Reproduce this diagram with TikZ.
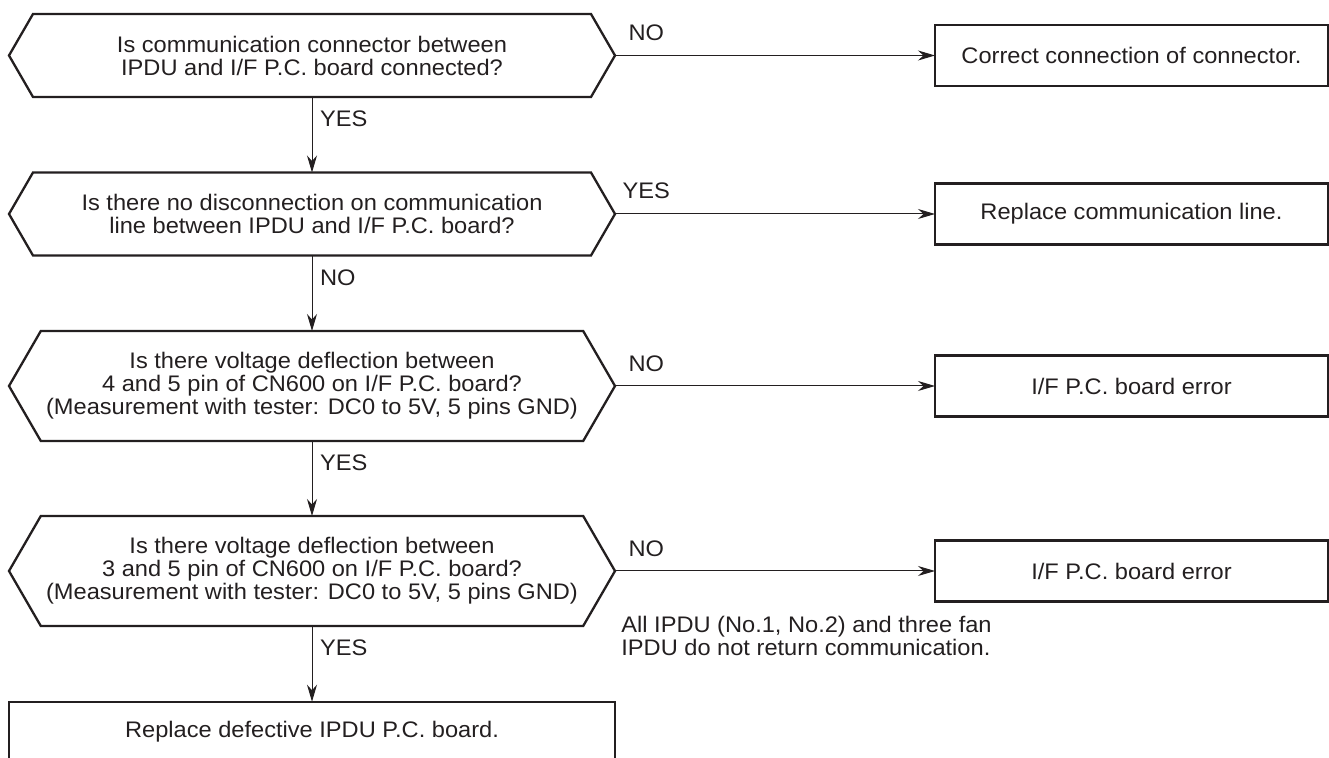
\documentclass[tikz,border=0pt]{standalone}
\usepackage{fontspec}
\setmainfont{Liberation Sans}[FakeStretch=1.05]
\usetikzlibrary{arrows.meta}
\definecolor{ink}{RGB}{35,31,32}

\tikzset{
  txt/.style={font=\fontsize{11.25pt}{11.5pt}\selectfont, text=ink},
  query/.style={txt, align=center, inner sep=0pt, outer sep=0pt, minimum width=303pt},
  result/.style={txt, draw=ink, line width=1.1pt, align=center, inner sep=0pt, outer sep=0pt,
    minimum width=196.5pt, minimum height=30.5pt},
  hexline/.style={draw=ink, line width=1.15pt, line join=miter},
  flow/.style={draw=ink, line width=0.5pt, -{Stealth[length=8.5pt,width=5pt]}},
  ans/.style={txt, inner sep=0pt},
}
% hexagon outline round a query node: #1 node, #2 corner inset
\newcommand{\hexframe}[2]{%
  \draw[hexline] (#1.west) -- ([xshift=#2]#1.north west) -- ([xshift=-#2]#1.north east)
    -- (#1.east) -- ([xshift=-#2]#1.south east) -- ([xshift=#2]#1.south west) -- cycle;}

\begin{document}
\begin{tikzpicture}[x=0.5pt, y=-0.5pt]
    \useasboundingbox (0,0) rectangle (1329,758);

    % questions
    \node[query, minimum height=41.5pt] (q1) at (312,55.5)
        {Is communication connector between\\IPDU and I/F P.C. board connected?};
    \node[query, minimum height=41.5pt] (q2) at (312,214)
        {Is there no disconnection on communication\\line between IPDU and I/F P.C. board?};
    \node[query, minimum height=55pt] (q3) at (312,386)
        {Is there voltage deflection between\\4 and 5 pin of CN600 on I/F P.C. board?\\(Measurement with tester: DC0 to 5V, 5 pins GND)};
    \node[query, minimum height=55pt] (q4) at (312,571)
        {Is there voltage deflection between\\3 and 5 pin of CN600 on I/F P.C. board?\\(Measurement with tester: DC0 to 5V, 5 pins GND)};
    \hexframe{q1}{12pt}
    \hexframe{q2}{12pt}
    \hexframe{q3}{15.9pt}
    \hexframe{q4}{15.9pt}

    % results
    \node[result] (r1) at (1131.5,55.5) {Correct connection of connector.};
    \node[result] (r2) at (1131.5,214) {Replace communication line.};
    \node[result] (r3) at (1131.5,386) {I/F P.C. board error};
    \node[result] (r4) at (1131.5,571) {I/F P.C. board error};
    \node[result, minimum width=303pt, minimum height=30pt] (fin) at (312,731.7)
        {Replace defective IPDU P.C. board.};

    \node[ans, anchor=base west, align=left] (note) at (621,656)
        {All IPDU (No.1, No.2) and three fan\\IPDU do not return communication.};

    % flow
    \draw[flow] (q1.east) -- node[ans, pos=0, anchor=base west, xshift=6.5pt, yshift=7.25pt] {NO} (r1.west);
    \draw[flow] (q2.east) -- node[ans, pos=0, anchor=base west, xshift=3.5pt, yshift=7.5pt] {YES} (r2.west);
    \draw[flow] (q3.east) -- node[ans, pos=0, anchor=base west, xshift=6.5pt, yshift=7.2pt] {NO} (r3.west);
    \draw[flow] (q4.east) -- node[ans, pos=0, anchor=base west, xshift=6.5pt, yshift=7.2pt] {NO} (r4.west);

    \draw[flow] (q1.south) -- node[ans, pos=0, anchor=base west, xshift=3.75pt, yshift=-15pt] {YES} (q2.north);
    \draw[flow] (q2.south) -- node[ans, pos=0, anchor=base west, xshift=3.75pt, yshift=-15pt] {NO} (q3.north);
    \draw[flow] (q3.south) -- node[ans, pos=0, anchor=base west, xshift=3.75pt, yshift=-15pt] {YES} (q4.north);
    \draw[flow] (q4.south) -- node[ans, pos=0, anchor=base west, xshift=3.75pt, yshift=-15pt] {YES} (fin.north);
\end{tikzpicture}
\end{document}
